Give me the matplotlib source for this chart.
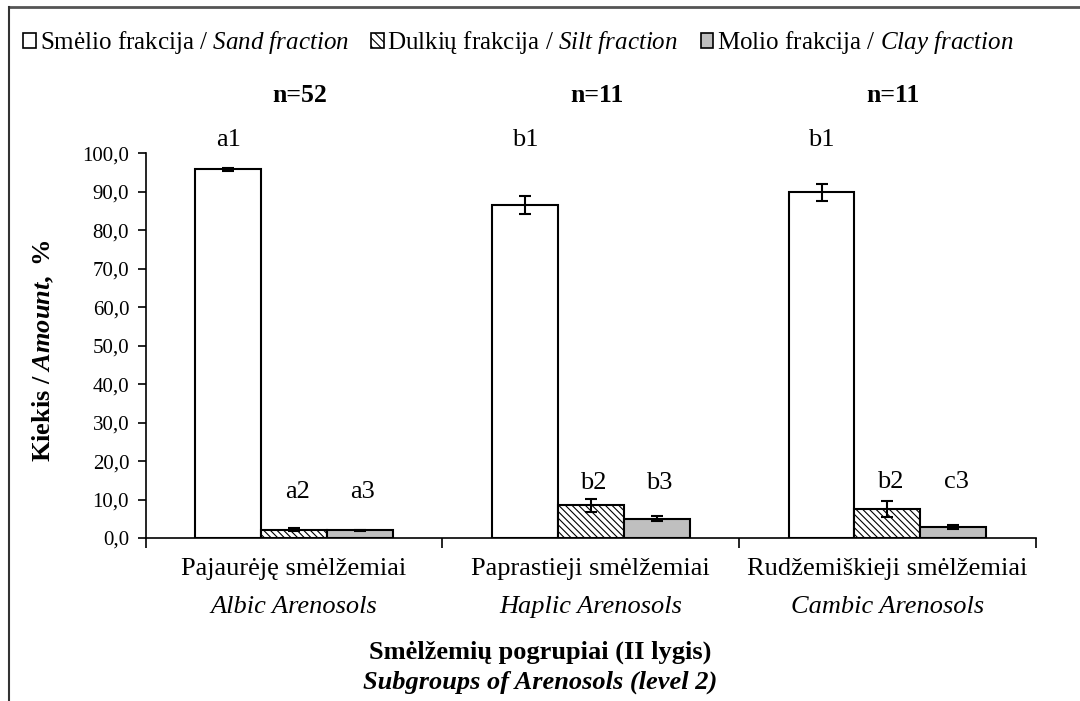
import numpy as np
import matplotlib
matplotlib.use("Agg")
import matplotlib.pyplot as plt
from matplotlib.patches import Patch
from matplotlib.lines import Line2D
from matplotlib.ticker import FuncFormatter

plt.rcParams['font.family'] = ['Liberation Serif', 'DejaVu Serif']
plt.rcParams['mathtext.fontset'] = 'custom'
plt.rcParams['mathtext.rm'] = 'Liberation Serif'
plt.rcParams['mathtext.it'] = 'Liberation Serif:italic'
plt.rcParams['mathtext.bf'] = 'Liberation Serif:bold'
plt.rcParams['mathtext.bfit'] = 'Liberation Serif:italic:bold'
plt.rcParams['hatch.linewidth'] = 0.8

# data
groups_lt = ["Pajaurėję smėlžemiai", "Paprastieji smėlžemiai", "Rudžemiškieji smėlžemiai"]
groups_en = ["Albic Arenosols", "Haplic Arenosols", "Cambic Arenosols"]
n_labels = ["n=52", "n=11", "n=11"]
sand = [95.8, 86.5, 89.9]
sand_err = [0.4, 2.4, 2.2]
silt = [2.2, 8.5, 7.5]
silt_err = [0.3, 1.7, 2.0]
clay = [2.0, 5.0, 2.8]
clay_err = [0.1, 0.6, 0.5]
sand_letters = ["a1", "b1", "b1"]
silt_letters = ["a2", "b2", "b2"]
clay_letters = ["a3", "b3", "c3"]
low_letter_y = [12.0, 14.3, 14.5]

fig = plt.figure(figsize=(10.8, 7.01), dpi=100)
ax = fig.add_axes([0.135, 0.2325, 0.824, 0.549])

x = np.arange(len(groups_lt)) + 0.5
w = 0.222
ekw = dict(elinewidth=1.5, capthick=1.5, ecolor='black')
ax.bar(x - w, sand, w, yerr=sand_err, capsize=4, color='white', edgecolor='black', lw=1.5, error_kw=ekw)
ax.bar(x, silt, w, yerr=silt_err, capsize=4, color='white', edgecolor='black', lw=1.5, hatch='\\\\\\\\\\', error_kw=ekw)
ax.bar(x + w, clay, w, yerr=clay_err, capsize=4, color='#bfbfbf', edgecolor='black', lw=1.5, error_kw=ekw)

fs = 19
for i in range(len(x)):
    ax.text(x[i] - w, 103.5, sand_letters[i], ha='center', va='center', fontsize=fs, clip_on=False)
    ax.text(x[i] + 0.01, low_letter_y[i], silt_letters[i], ha='center', va='center', fontsize=fs)
    ax.text(x[i] + w + 0.01, low_letter_y[i], clay_letters[i], ha='center', va='center', fontsize=fs)
    ax.text(x[i] + 0.02, 115, n_labels[i], ha='center', va='center', fontsize=18.5, fontweight='bold',
            clip_on=False)

ax.set_xlim(0, 3)
ax.set_ylim(0, 100)
ax.set_yticks(np.arange(0, 101, 10))
ax.yaxis.set_major_formatter(FuncFormatter(lambda v, p: f"{v:.1f}".replace('.', ',')))
ax.set_xticks([0, 1, 2, 3])
ax.set_xticklabels([])
ax.tick_params(axis='y', labelsize=15, length=6, width=1.2, direction='out', pad=6)
ax.tick_params(axis='x', length=7, width=1.2, direction='out')
for s in ['top', 'right']:
    ax.spines[s].set_visible(False)
for s in ['left', 'bottom']:
    ax.spines[s].set_linewidth(1.2)

tr = ax.get_xaxis_transform()
for i in range(len(x)):
    ax.text(x[i], -0.08, groups_lt[i], transform=tr, ha='center', va='center', fontsize=fs)
    ax.text(x[i], -0.18, groups_en[i], transform=tr, ha='center', va='center', fontsize=fs, style='italic')

fig.text(0.5, 0.07, "Smėlžemių pogrupiai (II lygis)", ha='center', va='center', fontsize=fs, fontweight='bold')
fig.text(0.5, 0.027, "Subgroups of Arenosols (level 2)", ha='center', va='center', fontsize=fs,
         fontweight='bold', style='italic')
fig.text(0.04, 0.50, r"$\mathbf{Kiekis\ /\ }\mathbfit{Amount}\mathbf{,\ \%}$", rotation=90,
         ha='center', va='center', fontsize=fs)

handles = [Patch(facecolor='white', edgecolor='black', lw=1.2),
           Patch(facecolor='white', edgecolor='black', lw=1.2, hatch='\\\\\\\\'),
           Patch(facecolor='#bfbfbf', edgecolor='black', lw=1.2)]
labels = [r"Smėlio frakcija / $\mathit{Sand\ fraction}$",
          r"Dulkių frakcija / $\mathit{Silt\ fraction}$",
          r"Molio frakcija / $\mathit{Clay\ fraction}$"]
fig.legend(handles, labels, loc='center', bbox_to_anchor=(0.48, 0.939), ncol=3, frameon=False,
           fontsize=18, handlelength=0.5, handleheight=0.5, handletextpad=0.15, columnspacing=0.9)

# outer frame (top and left edges)
fig.add_artist(Line2D([0.008, 1.0], [0.99, 0.99], color='#555555', lw=2, transform=fig.transFigure))
fig.add_artist(Line2D([0.0085, 0.0085], [0.0, 0.99], color='#333333', lw=1.5, transform=fig.transFigure))

fig.savefig("out.png", dpi=100)
